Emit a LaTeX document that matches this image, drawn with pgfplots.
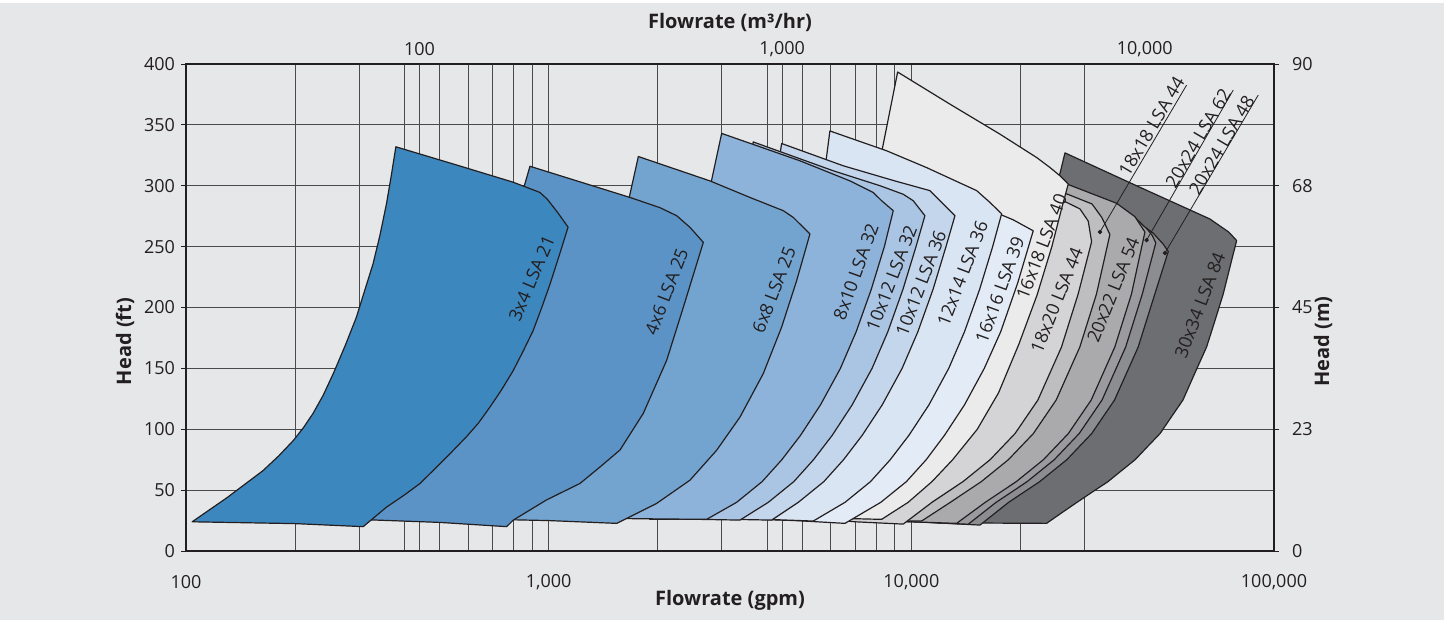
\documentclass[border=0pt]{standalone}
\usepackage{fontspec}
\setmainfont{Open Sans}
\usepackage{pgfplots}
\pgfplotsset{compat=1.18}
\definecolor{bg}{HTML}{E6E7E8}
\definecolor{gridc}{HTML}{4A4A4A}
\definecolor{txt}{HTML}{231F20}
\definecolor{cA}{HTML}{3D87BF}
\definecolor{cB}{HTML}{5B93C7}
\definecolor{cC}{HTML}{73A3CF}
\definecolor{cD}{HTML}{8DB3DA}
\definecolor{cE}{HTML}{A9C5E3}
\definecolor{cF}{HTML}{C3D6EC}
\definecolor{cG}{HTML}{DAE5F3}
\definecolor{cH}{HTML}{E3EBF6}
\definecolor{cI}{HTML}{EBEBEB}
\definecolor{cJ}{HTML}{D4D4D6}
\definecolor{cK}{HTML}{BEBEC1}
\definecolor{cL}{HTML}{AAAAAD}
\definecolor{cM}{HTML}{9B9B9F}
\definecolor{cN}{HTML}{8C8D91}
\definecolor{cO}{HTML}{6D6E72}
\tikzset{
  pump/.style={draw=txt, line width=0.6pt, line join=round},
  lbl/.style={font=\fontsize{9}{10}\selectfont, text=txt, inner sep=0pt},
  ldr/.style={draw=txt, line width=0.4pt},
}
\begin{document}
\begin{tikzpicture}
\path[use as bounding box] (-93pt,-36pt) rectangle (631.5pt,275.5pt);
\fill[white] (-93pt,-36pt) rectangle (631.5pt,275.5pt);
\fill[bg] (-93pt,-34.5pt) rectangle (629pt,274pt);
\begin{axis}[
  at={(0,0)}, anchor=south west, scale only axis,
  width=544pt, height=243.5pt,
  xmode=log, xmin=100, xmax=100000, ymin=0, ymax=400,
  clip=false, xminorticks=false,
  xtick={100,200,300,400,440.3,500,600,700,800,900,1000,2000,3000,4000,4403,5000,6000,7000,8000,9000,10000,20000,30000,100000},
  xticklabels={100,,,,,,,,,,{1,000},,,,,,,,,,{10,000},,,{100,000}},
  ytick={0,50,...,400},
  yticklabels={0,50,100,150,200,250,300,350,400},
  grid=major, major grid style={line width=0.5pt, draw=gridc},
  tick align=outside, major tick length=2.5pt, tick style={line width=0.5pt, draw=txt},
  x tick style={draw=none},
  xtick pos=bottom, ytick pos=left,
  axis line style={line width=0.6pt, draw=txt},
  ticklabel style={font=\fontsize{9}{10}\selectfont, text=txt},
  xticklabel style={anchor=center, yshift=-13pt},
  yticklabel style={anchor=east, xshift=0.5pt},
  xlabel={Flowrate (gpm)}, ylabel={Head (ft)},
  label style={font=\fontsize{10}{12}\selectfont\bfseries, text=txt},
  xlabel style={at={(axis description cs:0.5,0)}, anchor=center, yshift=-24.5pt},
  ylabel style={at={(axis description cs:0,0.5)}, anchor=center, xshift=-17pt, yshift=30.5pt},
]
% 30x34 LSA 84
\addplot[pump, fill=cO] coordinates {(11500,24) (12000,57) (13000,95) (15000,150) (18000,200) (22000,270) (25690,310) (26520,327) (41780,300) (66570,272.7) (70930,267) (75000,262) (78880,255) (75560,233) (72420,211) (68700,189) (65160,167.5) (60420,145.75) (56090,124) (52140,110.25) (48510,96.5) (44800,85.75) (41410,75) (37970,66) (34860,57) (31570,48.5) (28630,40) (25970,31.35) (23590,22.7) (15000,23)} -- cycle;
% 20x24 LSA 48
\addplot[pump, fill=cN] coordinates {(10000,24.5) (11500,57) (14000,95) (17000,150) (20000,200) (23000,250) (30000,288) (41350,272) (46450,261) (49500,252) (51100,246) (46910,211) (42210,167.5) (36330,124) (31430,96.5) (26830,75) (22590,57) (18550,40) (15460,21.3) (12000,23)} -- cycle;
% 20x24 LSA 62
\addplot[pump, fill=cM] coordinates {(9000,24.5) (10500,57) (13000,95) (16000,150) (19000,200) (22000,260) (30000,293) (41350,274) (44800,264) (46200,259) (47200,253) (43330,211) (38990,167.5) (33560,124) (29030,96.5) (24780,75) (20860,57) (17130,40) (14350,22) (11000,23.5)} -- cycle;
% 20x22 LSA 54
\addplot[pump, fill=cL] coordinates {(8000,25) (9500,57) (11500,95) (14500,150) (17000,200) (20000,260) (20000,315) (27080,301) (36810,285.6) (41350,274.6) (44060,262) (40450,211) (36390,167.5) (31330,124) (27100,96.5) (23130,75) (19470,57) (15990,40) (13330,22.7) (10000,24)} -- cycle;
% 18x18 LSA 44
\addplot[pump, fill=cK] coordinates {(7000,25) (8000,57) (9500,95) (12000,150) (15000,200) (19000,250) (22000,300) (27000,293) (31500,285) (33500,274) (35280,260) (32390,211) (29140,167.5) (25080,124) (21700,96.5) (18520,75) (15590,57) (12810,40) (10670,24.6) (8500,25)} -- cycle;
% 18x20 LSA 44
\addplot[pump, fill=cJ] coordinates {(5500,27) (6200,70) (7500,120) (9000,170) (11000,220) (14000,270) (18000,296) (26520,287) (29160,281) (30740,271) (31410,254) (28830,211) (25940,167.5) (22330,124) (19320,96.5) (16490,75) (13880,57) (11400,40) (9497,22.1) (7000,24)} -- cycle;
% 16x18 LSA 40
\addplot[pump, fill=cI] coordinates {(4200,27) (4700,70) (5300,120) (6000,170) (7000,240) (7800,290) (8314,330) (9166,393.4) (12780,367) (17550,342.4) (22150,323.2) (24110,315) (25690,308.2) (27080,301.4) (26000,282) (24400,250) (22200,210) (19800,170) (17400,130) (15200,100) (13000,75) (11400,57) (9800,40) (8280,26) (6000,27)} -- cycle;
% 16x16 LSA 39
\addplot[pump, fill=cH] coordinates {(3800,26) (4400,70) (5000,120) (5600,180) (6200,250) (6600,300) (7000,332) (15000,291) (17740,276) (19100,272) (21680,263) (19640,220) (17630,180) (15890,150) (14010,120) (12340,95) (10990,75) (9691,57) (8238,40) (6561,22.7) (4800,25)} -- cycle;
% 12x14 LSA 36
\addplot[pump, fill=cG] coordinates {(3100,26) (3800,70) (4300,120) (4800,180) (5300,250) (5700,300) (5963,345) (8551,328.7) (11000,315) (15140,296) (16470,286.3) (17740,277) (16760,250) (15430,215) (14010,180) (12680,150) (11180,120) (9846,95) (8746,75) (7717,57) (6564,40) (5365,24.6) (4000,26)} -- cycle;
% 10x12 LSA 36
\addplot[pump, fill=cF] coordinates {(2400,26) (2900,70) (3250,120) (3600,180) (3900,250) (4200,300) (4390,334.7) (6490,316.4) (9000,304) (11250,296) (11990,287.7) (13190,275.4) (12460,250) (11480,215) (10420,180) (9431,150) (8310,120) (7320,95) (6503,75) (5738,57) (4880,40) (4120,25.4) (3200,26)} -- cycle;
% 10x12 LSA 32
\addplot[pump, fill=cE] coordinates {(1900,26) (2400,70) (2700,120) (3000,180) (3300,250) (3500,300) (3665,336) (6091,312.3) (8200,300) (9500,293) (10120,287.7) (10900,275.4) (10300,250) (9483,215) (8611,180) (7794,150) (6867,120) (6050,95) (5374,75) (4742,57) (4033,40) (3369,25.4) (2600,26)} -- cycle;
% 8x10 LSA 32
\addplot[pump, fill=cD] coordinates {(1250,27) (1500,70) (1800,120) (2100,180) (2500,250) (2814,304.7) (2999,343) (4931,320.5) (6771,304) (7852,294.5) (8280,287.7) (8915,279.5) (8425,250) (7756,215) (7043,180) (6374,150) (5616,120) (4948,95) (4395,75) (3878,57) (3299,40) (2726,26) (1800,26.5)} -- cycle;
% 6x8 LSA 25
\addplot[pump, fill=cC] coordinates {(700,26) (900,70) (1100,120) (1300,180) (1500,240) (1668,290.5) (1767,324) (2784,304) (3589,290.4) (4436,279.5) (4725,274) (5253,260.4) (4827,222) (4390,184) (3906,145.7) (3369,110) (2906,82.8) (2453,58.2) (1985,39.1) (1540,22.7) (1000,25)} -- cycle;
% 4x6 LSA 25
\addplot[pump, fill=cB] coordinates {(250,25.5) (400,66) (500,113) (590,160) (700,220) (800,270) (855,299) (888,316) (1676,290.4) (2027,282) (2254,275.4) (2453,265.8) (2669,253.5) (2350,200) (2115,156.6) (1823,113) (1573,83) (1385,69) (1220,55.5) (987,42) (799,25.4) (766,20) (500,23.5) (328,25.5)} -- cycle;
% 3x4 LSA 21
\addplot[pump, fill=cA] coordinates {(104,24) (130,44) (163,66) (180,78) (198,91) (211,101.5) (224,113) (239,128) (255,146) (275,169) (295,192) (311,214) (328,236) (343,260) (357,285) (368,308) (379,332) (551,317.5) (797,303) (946,294.5) (991,289) (1059,278) (1131,266) (1070,243) (1008,219) (957,200) (906,181) (850,164) (798,148) (740,132) (688,118) (640,105) (594,94) (523,77) (442,55.5) (400,46) (357,36) (308,20) (200,22.5)} -- cycle;
% leader lines
\addplot[ldr, mark=*, mark size=0.9pt, mark indices={1}, mark options={fill=txt}] coordinates {(33110,262) (57410,382.7)};
\addplot[ldr, mark=*, mark size=0.9pt, mark indices={1}, mark options={fill=txt}] coordinates {(44540,255.4) (77190,378.6)};
\addplot[ldr, mark=*, mark size=0.9pt, mark indices={1}, mark options={fill=txt}] coordinates {(50030,244.8) (90470,374.5)};
% labels
\node[lbl, rotate=67] at (axis cs:898,224) {3x4 LSA 21};
\node[lbl, rotate=69] at (axis cs:2115,213) {4x6 LSA 25};
\node[lbl, rotate=69] at (axis cs:4180,214.4) {6x8 LSA 25};
\node[lbl, rotate=70] at (axis cs:7036,229.4) {8x10 LSA 32};
\node[lbl, rotate=69] at (axis cs:8824,224) {10x12 LSA 32};
\node[lbl, rotate=69] at (axis cs:10630,220) {10x12 LSA 36};
\node[lbl, rotate=69] at (axis cs:13850,228) {12x14 LSA 36};
\node[lbl, rotate=70] at (axis cs:17550,214.4) {16x16 LSA 39};
\node[lbl, rotate=69] at (axis cs:22870,250) {16x18 LSA 40};
\node[lbl, rotate=68] at (axis cs:25160,206) {18x20 LSA 44};
\node[lbl, rotate=68] at (axis cs:36040,214.4) {20x22 LSA 54};
\node[lbl, rotate=69] at (axis cs:62480,202) {30x34 LSA 84};
\node[lbl, rotate=59.5] at (axis cs:45970,348.5) {18x18 LSA 44};
\node[lbl, rotate=59.5] at (axis cs:61800,339) {20x24 LSA 62};
\node[lbl, rotate=59.5] at (axis cs:71730,333.5) {20x24 LSA 48};
\end{axis}
% right axis (m)
\begin{axis}[
  at={(0,0)}, anchor=south west, scale only axis,
  width=544pt, height=243.5pt,
  xmode=log, xmin=100, xmax=100000, ymin=0, ymax=90,
  axis x line=none, axis y line*=right,
  ytick={0,22.5,45,67.5,90}, yticklabels={0,23,45,68,90},
  tick align=outside, major tick length=2.5pt, tick style={line width=0.5pt, draw=txt},
  axis line style={line width=0.6pt, draw=txt},
  ticklabel style={font=\fontsize{9}{10}\selectfont, text=txt},
  yticklabel style={anchor=west, xshift=3pt},
  ylabel={Head (m)},
  label style={font=\fontsize{10}{12}\selectfont\bfseries, text=txt},
  ylabel style={at={(axis description cs:1,0.5)}, anchor=center, xshift=-17pt, yshift=-24.5pt},
]
\addplot[draw=none] coordinates {(1000,10)};
\end{axis}
% top axis (m3/hr)
\begin{axis}[
  at={(0,0)}, anchor=south west, scale only axis,
  width=544pt, height=243.5pt,
  xmode=log, xmin=22.712, xmax=22712, ymin=0, ymax=1,
  axis y line=none, axis x line*=top, xminorticks=false,
  xtick={100,1000,10000}, xticklabels={100,{1,000},{10,000}},
  x tick style={draw=none},
  axis line style={line width=0.6pt, draw=txt},
  ticklabel style={font=\fontsize{9}{10}\selectfont, text=txt},
  xticklabel style={anchor=center, yshift=7.5pt},
  xlabel={Flowrate (m³/hr)},
  label style={font=\fontsize{10}{12}\selectfont\bfseries, text=txt},
  xlabel style={at={(axis description cs:0.5,1)}, anchor=center, yshift=21pt},
]
\addplot[draw=none] coordinates {(1000,0.5)};
\end{axis}
\end{tikzpicture}
\end{document}
